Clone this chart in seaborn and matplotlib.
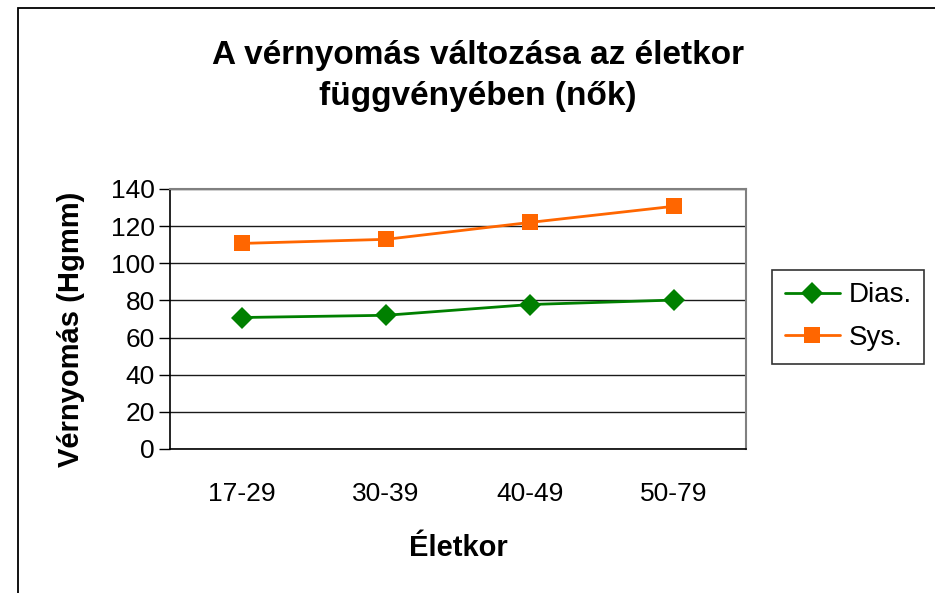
import pandas as pd
import matplotlib.pyplot as plt
import matplotlib.patches as mpatches
import seaborn as sns

# Data
age_groups = ["17-29", "30-39", "40-49", "50-79"]
dias_values = [70.8, 72.0, 77.8, 80.2]
sys_values = [110.7, 112.9, 122.0, 130.7]
series_names = ["Dias.", "Sys."]
y_ticks = [0, 20, 40, 60, 80, 100, 120, 140]

df = pd.DataFrame({
    "Életkor": age_groups * 2,
    "value": dias_values + sys_values,
    "series": [series_names[0]] * 4 + [series_names[1]] * 4,
})


def main():
    sns.set_style("white")
    plt.rcParams["font.family"] = ["Liberation Sans", "DejaVu Sans"]
    plt.rcParams["text.color"] = "black"
    plt.rcParams["axes.labelcolor"] = "black"
    plt.rcParams["xtick.color"] = "black"
    plt.rcParams["ytick.color"] = "black"

    fig = plt.figure(figsize=(9.35, 5.93), dpi=100)
    ax = fig.add_axes([170 / 935, 1 - 449 / 593, 576 / 935, 260 / 593])

    # outer chart border (only left/top visible in the reference)
    fig.patches.append(mpatches.Rectangle(
        (18 / 935, -0.1), 1.2, 1 - 8 / 593 + 0.1, transform=fig.transFigure,
        fill=False, edgecolor="black", linewidth=1.3, zorder=0))

    palette = {"Dias.": "#008000", "Sys.": "#FF6600"}
    markers = {"Dias.": "D", "Sys.": "s"}
    sns.lineplot(data=df, x="Életkor", y="value", hue="series", style="series",
                 palette=palette, markers=markers, dashes=False, sort=False,
                 markersize=11, linewidth=2, markeredgewidth=0, ax=ax, legend=False)

    ax.set_xlim(-0.5, 3.5)
    ax.set_ylim(0, 140)
    ax.set_yticks(y_ticks)
    ax.set_xticks(range(len(age_groups)))
    ax.set_xticklabels(age_groups)
    ax.set_xticks([-0.5, 0.5, 1.5, 2.5, 3.5], minor=True)
    ax.tick_params(axis="x", which="major", length=0, labelsize=19, pad=24)
    ax.tick_params(axis="x", which="minor", length=9, width=1, color="black", direction="out")
    ax.tick_params(axis="y", length=8, width=1, color="black", direction="out",
                   labelsize=19, pad=3, left=True)

    ax.yaxis.grid(True, color="#1a1a1a", linewidth=1)
    ax.set_axisbelow(True)
    for side in ["top", "right"]:
        ax.spines[side].set_color("#808080")
        ax.spines[side].set_linewidth(1.5)
    for side in ["left", "bottom"]:
        ax.spines[side].set_color("black")
        ax.spines[side].set_linewidth(1.2)

    ax.set_xlabel("Életkor", fontsize=21, fontweight="bold", labelpad=20)
    ax.set_ylabel("Vérnyomás (Hgmm)", fontsize=21, fontweight="bold")
    ax.yaxis.set_label_coords(-0.148, 0.46)

    fig.text(478 / 935, 1 - 76 / 593, "A vérnyomás változása az életkor\nfüggvényében (nők)",
             ha="center", va="center", fontsize=24, fontweight="bold", linespacing=1.45)

    handles = [
        plt.Line2D([], [], color="#008000", marker="D", markersize=11, linewidth=2,
                   markeredgewidth=0, label="Dias."),
        plt.Line2D([], [], color="#FF6600", marker="s", markersize=11, linewidth=2,
                   markeredgewidth=0, label="Sys."),
    ]
    leg = fig.legend(handles=handles, loc="upper left",
                     bbox_to_anchor=(772 / 935, 1 - 270 / 593), fontsize=20,
                     frameon=True, fancybox=False, handlelength=2.0, handletextpad=0.3,
                     borderpad=0.45, labelspacing=0.6, borderaxespad=0)
    leg.get_frame().set_edgecolor("black")
    leg.get_frame().set_linewidth(1.2)

    fig.savefig("out.png", dpi=100)


if __name__ == "__main__":
    main()
